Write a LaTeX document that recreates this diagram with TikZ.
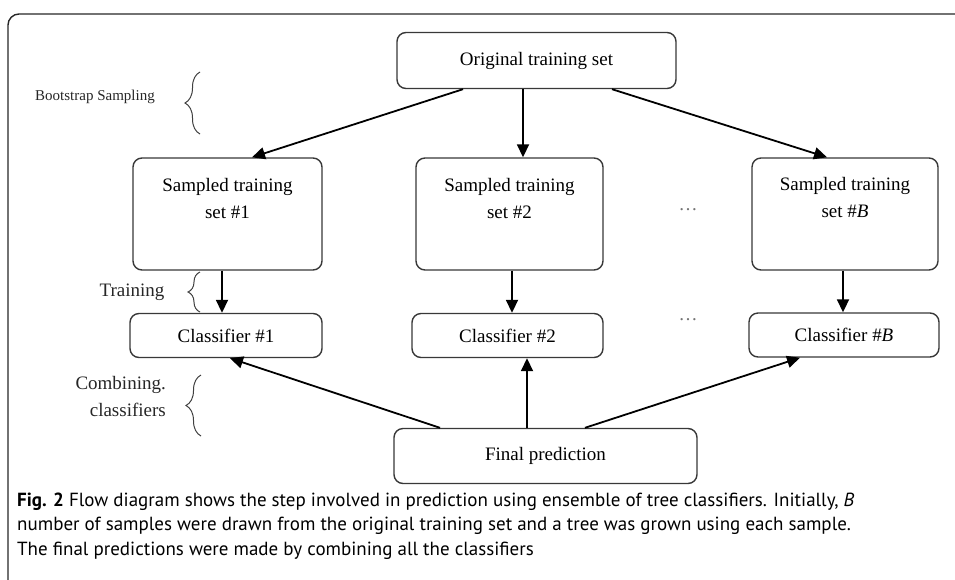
\documentclass[tikz,border=0pt]{standalone}
\usepackage{fontspec}
\setmainfont{Liberation Serif}
\newfontfamily\capfont{PT Sans}
\usetikzlibrary{arrows.meta,decorations.pathreplacing}
\tikzset{
  box/.style={draw=black!78, line width=1.4pt, rounded corners=9pt, inner sep=0pt},
  lbl/.style={font=\fontsize{19}{27}\selectfont, inner sep=0pt, align=center},
  side/.style={font=\fontsize{19}{27}\selectfont, inner sep=0pt, align=right, text=black!85},
  arr/.style={line width=1.8pt, -{Triangle[length=13pt,width=12pt]}},
  brc/.style={draw=black!75, line width=1pt, decorate, decoration={brace, amplitude=15pt}},
  dts/.style={font=\fontsize{19}{22}\selectfont, text=black!55, inner sep=0pt},
  captxt/.style={font=\capfont\fontsize{19}{24.5}\selectfont, inner sep=0pt, anchor=base west}
}
\begin{document}
\begin{tikzpicture}[x=1pt,y=-1pt]
\useasboundingbox (0,0) rectangle (955,579);
% frame
\draw[line width=1.4pt, rounded corners=11pt, black!85] (8,590) -- (8,14) -- (965,14);

% boxes
\node[box, minimum width=279pt, minimum height=56pt] (orig) at (536.5,60.5) {};
\node[lbl] (origt) at (orig.center) {Original training set};

\node[box, minimum width=189pt, minimum height=112pt] (s1) at (227.5,214) {};
\node[box, minimum width=187pt, minimum height=112pt] (s2) at (509.5,214) {};
\node[box, minimum width=186pt, minimum height=112pt] (sB) at (845,214) {};
\node[lbl] (s1t) at (227.5,198) {Sampled training\\set \#1};
\node[lbl] (s2t) at (509.5,198) {Sampled training\\set \#2};
\node[lbl] (sBt) at (845,197) {Sampled training\\set \#\textit{B}};

\node[box, minimum width=192pt, minimum height=44pt] (c1) at (226,335.5) {};
\node[box, minimum width=191pt, minimum height=44pt] (c2) at (507.5,335.5) {};
\node[box, minimum width=190pt, minimum height=44pt] (cB) at (844,335) {};
\node[lbl] (c1t) at (c1.center) {Classifier \#1};
\node[lbl] (c2t) at (c2.center) {Classifier \#2};
\node[lbl] (cBt) at (cB.center) {Classifier \#\textit{B}};

\node[box, minimum width=303pt, minimum height=55pt] (fin) at (545.5,456) {};
\node[lbl] (fint) at (fin.center) {Final prediction};

% dots
\node[dts] (d1) at (688,210) {\dots};
\node[dts] (d2) at (688,320) {\dots};

% arrows
\draw[arr] ([xshift=-73.5pt]orig.south) -- ([xshift=24.5pt]s1.north);
\draw[arr] ([xshift=-13.5pt]orig.south) -- ([xshift=13.5pt]s2.north);
\draw[arr] ([xshift=75.5pt]orig.south) -- ([xshift=-18pt]sB.north);

\draw[arr] ([xshift=-5.5pt]s1.south) -- ([xshift=-4pt]c1.north);
\draw[arr] ([xshift=2.5pt]s2.south) -- ([xshift=4.5pt]c2.north);
\draw[arr] ([xshift=-2pt]sB.south) -- ([xshift=-1pt]cB.north);

\draw[arr] ([xshift=-105.5pt]fin.north) -- ([xshift=4pt]c1.south);
\draw[arr] ([xshift=-18.5pt]fin.north) -- ([xshift=19.5pt]c2.south);
\draw[arr] ([xshift=39.5pt]fin.north) -- ([xshift=-44pt]cB.south);

% braces and side labels
\draw[brc] (200,134) -- (200,72);
\node[side, font=\fontsize{15}{18}\selectfont] (bs) at (95,97) {Bootstrap Sampling};
\draw[brc, decoration={brace, amplitude=12pt}] (200,312) -- (200,272);
\node[side] (tr) at (132,292) {Training};
\draw[brc] (201,436) -- (201,375);
\node[side, anchor=east] (cc) at (166,396) {Combining.\\classifiers};

% caption
\node[captxt] (cap1) at (17,506) {\textbf{Fig. 2} Flow diagram shows the step involved in prediction using ensemble of tree classifiers. Initially, \textit{B}};
\node[captxt] (cap2) at (17,530.5) {number of samples were drawn from the original training set and a tree was grown using each sample.};
\node[captxt] (cap3) at (17,555) {The final predictions were made by combining all the classifiers};
\end{tikzpicture}
\end{document}
